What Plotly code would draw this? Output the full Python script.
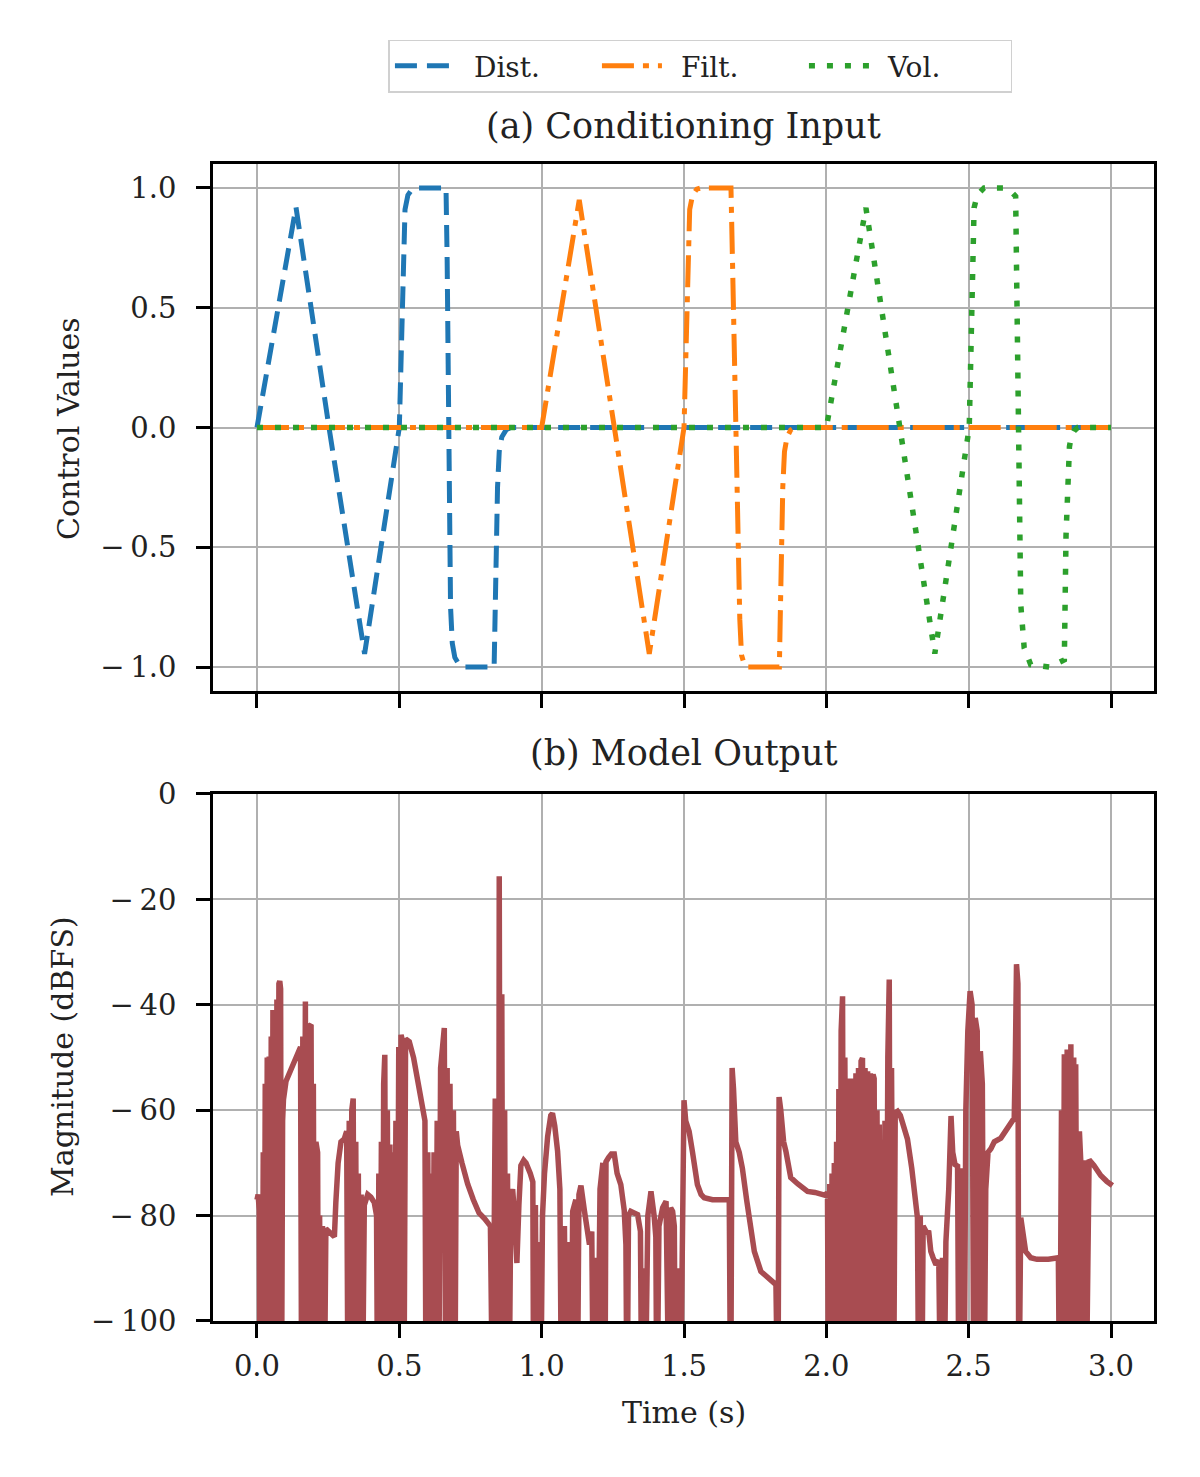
import plotly.graph_objects as go

# value used where the output drops below the -100 dB floor (clipped by the axis)
L = -120

# (a) conditioning input, time in s
dist_t = [0.0, 0.137, 0.253, 0.378, 0.5, 0.507, 0.514, 0.52, 0.53, 0.545, 0.56, 0.664, 0.668, 0.672, 0.676,
          0.68, 0.686, 0.695, 0.71, 0.728, 0.833, 0.836, 0.84, 0.845, 0.851, 0.86, 0.875, 0.89, 3.0]
dist_v = [0.0, 0.92, 0.0, -0.945, 0.0, 0.4, 0.75, 0.91, 0.97, 0.995, 1.0, 1.0, 0.7, 0.2, -0.3,
          -0.75, -0.9, -0.96, -0.99, -1.0, -1.0, -0.8, -0.5, -0.25, -0.1, -0.04, -0.01, 0.0, 0.0]

filt_t = [0.0, 1.0, 1.132, 1.256, 1.378, 1.5, 1.507, 1.514, 1.52, 1.53, 1.545, 1.56, 1.665, 1.672, 1.68,
          1.688, 1.696, 1.702, 1.712, 1.725, 1.835, 1.838, 1.842, 1.847, 1.853, 1.862, 1.875, 1.89, 3.0]
filt_v = [0.0, 0.0, 0.95, 0.0, -0.945, 0.0, 0.4, 0.75, 0.91, 0.97, 0.995, 1.0, 1.0, 0.6, 0.1,
          -0.4, -0.8, -0.95, -0.99, -1.0, -1.0, -0.8, -0.5, -0.25, -0.1, -0.04, -0.01, 0.0, 0.0]

vol_t = [0.0, 2.0, 2.139, 2.256, 2.381, 2.502, 2.508, 2.514, 2.519, 2.53, 2.554, 2.624, 2.645, 2.665,
         2.671, 2.677, 2.683, 2.695, 2.718, 2.783, 2.836, 2.842, 2.848, 2.854, 2.86, 2.87, 2.883, 3.0]
vol_v = [0.0, 0.0, 0.917, 0.0, -0.944, 0.0, 0.45, 0.78, 0.917, 0.97, 1.0, 1.0, 0.99, 0.965,
         0.375, -0.18, -0.74, -0.92, -0.99, -1.0, -0.97, -0.45, -0.2, -0.08, -0.04, -0.015, 0.0, 0.0]

# (b) model output magnitude, dBFS
out_t = [
    0.000, 0.004, 0.008, 0.011, 0.015, 0.018, 0.022, 0.025, 0.029, 0.032,
    0.036, 0.039, 0.043, 0.046, 0.050, 0.053, 0.056, 0.059, 0.063, 0.066,
    0.070, 0.073, 0.077, 0.080, 0.083, 0.086, 0.090, 0.093, 0.102, 0.110,
    0.118, 0.126, 0.134, 0.140, 0.148, 0.153, 0.157, 0.161, 0.164, 0.168,
    0.170, 0.173, 0.177, 0.181, 0.185, 0.190, 0.194, 0.198, 0.202, 0.207,
    0.213, 0.216, 0.220, 0.224, 0.230, 0.236, 0.242, 0.250, 0.262, 0.272,
    0.277, 0.285, 0.295, 0.307, 0.315, 0.320, 0.324, 0.328, 0.333, 0.338,
    0.342, 0.347, 0.351, 0.356, 0.360, 0.366, 0.370, 0.377, 0.382, 0.389,
    0.400, 0.412, 0.420, 0.424, 0.428, 0.432, 0.437, 0.441, 0.445, 0.449,
    0.453, 0.458, 0.462, 0.467, 0.471, 0.476, 0.482, 0.488, 0.492, 0.498,
    0.502, 0.506, 0.512, 0.516, 0.522, 0.535, 0.550, 0.565, 0.580, 0.590,
    0.594, 0.600, 0.605, 0.611, 0.616, 0.622, 0.627, 0.633, 0.638, 0.645,
    0.651, 0.658, 0.663, 0.668, 0.673, 0.678, 0.684, 0.690, 0.695, 0.700,
    0.705, 0.720, 0.740, 0.760, 0.780, 0.800, 0.820, 0.828, 0.834, 0.837,
    0.841, 0.846, 0.849, 0.851, 0.855, 0.860, 0.864, 0.870, 0.874, 0.880,
    0.885, 0.892, 0.898, 0.905, 0.913, 0.920, 0.927, 0.937, 0.945, 0.960,
    0.969, 0.972, 0.978, 0.983, 0.990, 0.996, 1.003, 1.010, 1.021, 1.032,
    1.038, 1.046, 1.056, 1.064, 1.070, 1.080, 1.086, 1.096, 1.103, 1.109,
    1.120, 1.125, 1.131, 1.138, 1.150, 1.160, 1.168, 1.176, 1.182, 1.190,
    1.196, 1.205, 1.215, 1.222, 1.226, 1.235, 1.245, 1.255, 1.265, 1.278,
    1.290, 1.296, 1.300, 1.305, 1.313, 1.325, 1.337, 1.347, 1.352, 1.358,
    1.363, 1.373, 1.384, 1.395, 1.401, 1.405, 1.412, 1.425, 1.437, 1.448,
    1.453, 1.460, 1.466, 1.470, 1.480, 1.487, 1.496, 1.500, 1.506, 1.518,
    1.530, 1.547, 1.560, 1.571, 1.600, 1.630, 1.659, 1.664, 1.669, 1.674,
    1.682, 1.694, 1.705, 1.720, 1.747, 1.770, 1.793, 1.823, 1.830, 1.834,
    1.840, 1.850, 1.858, 1.875, 1.900, 1.934, 1.960, 1.993, 2.000, 2.004,
    2.008, 2.012, 2.016, 2.020, 2.024, 2.028, 2.032, 2.036, 2.040, 2.044,
    2.048, 2.052, 2.057, 2.061, 2.065, 2.069, 2.073, 2.077, 2.081, 2.087,
    2.091, 2.095, 2.099, 2.104, 2.108, 2.113, 2.117, 2.122, 2.127, 2.131,
    2.136, 2.140, 2.145, 2.149, 2.155, 2.159, 2.164, 2.168, 2.172, 2.178,
    2.182, 2.186, 2.190, 2.196, 2.200, 2.206, 2.210, 2.216, 2.221, 2.225,
    2.229, 2.232, 2.236, 2.242, 2.250, 2.260, 2.285, 2.300, 2.320, 2.325,
    2.330, 2.335, 2.340, 2.350, 2.360, 2.367, 2.375, 2.385, 2.395, 2.402,
    2.408, 2.413, 2.420, 2.430, 2.438, 2.444, 2.452, 2.461, 2.466, 2.472,
    2.478, 2.484, 2.490, 2.497, 2.505, 2.512, 2.518, 2.523, 2.530, 2.536,
    2.541, 2.548, 2.554, 2.560, 2.568, 2.578, 2.590, 2.613, 2.640, 2.660,
    2.664, 2.668, 2.673, 2.676, 2.683, 2.700, 2.718, 2.740, 2.780, 2.815,
    2.820, 2.826, 2.831, 2.836, 2.841, 2.846, 2.851, 2.855, 2.859, 2.864,
    2.869, 2.873, 2.876, 2.882, 2.889, 2.894, 2.897, 2.905, 2.912, 2.923,
    2.940, 2.964, 2.985, 3.005,
]
out_db = [
    -77, -76, -79, L, -82, L, -68, L, -55, L,
    -50, L, -49.8, L, -46, L, -41, L, -44, L,
    -39, L, -36, -35.5, -37, L, -62, -58, -54.5, -53.5,
    -52.5, -51.5, -50.5, -50, -49, -48, L, -46, L, -42,
    -39.4, L, -46, L, -44, -43.8, L, -55, L, -66,
    -68, L, -80, L, -82, L, -82.5, -83, -83.5, -84,
    -77.5, -70, -66, -65.4, -64, L, -62, L, -60, -57.8,
    L, -66, L, -72, L, -76, L, -78, -77, -76,
    -76.5, -77.5, -80, L, -72, L, -66, L, -55, -49.5,
    L, -60, L, -66.5, L, -68, L, -62, L, -48,
    L, -45.7, -47, L, -46.5, -47, -50, -54.5, -59, -62,
    L, -68, L, -72, L, -68, L, -62, L, -52,
    -47, -44.4, L, -52, L, -55, L, -60, L, -64,
    -66.7, -70, -74, -77, -79.5, -80.6, -82, L, -82.5, -57.8,
    L, -70, L, -15.6, L, -38, L, -60, L, -72,
    L, -76, -75, -80, -89, -78, -70.5, -69.5, -70, -72,
    -73.6, L, -78, L, -85, L, -80, -72, -65, -61,
    -60.6, -63, -67.8, -75, L, -82, L, -85, L, -79.2,
    -77, L, -76, -74.3, -79, -83, -85.5, -83, L, -88,
    L, -75, -70, L, -69.8, -69, -68.3, -68.3, -72, -74.1,
    -79, -85.5, L, -80, -79.2, -79.5, -79.8, -83, L, -90,
    L, -80, -75.4, -80, -84, L, -82, -78.5, -77.3, L,
    -78.5, -79.2, -82, L, -90, L, -85, -58.1, -62, -64,
    -68, -74.1, -76, -76.6, -77, -77, -77, L, -52, -56,
    -66, -68, -71, -77, -86.8, -90.6, -91.8, -93.1, L, -57.5,
    -60, -66, -67.8, -72.8, -74, -75.4, -75.6, -76, -76.2, -75.5,
    L, -74, L, -72, L, -70, L, -66, L, -56,
    L, -45, -38.4, L, -50, -50.2, L, -54, L, -55.1,
    L, -54, L, -53, L, -52, L, -50.7, -50.1, L,
    -52, L, -52.6, L, -53, L, -53.2, -54, L, -60,
    L, -62.7, L, -68, L, -62, L, -50, -35.2, L,
    -52, -58, L, -60.5, -60.2, -61, -65.5, -71, -80.4, L,
    -80, L, -82, -83, -83.2, -86.8, -88, -89.3, -88.5, L,
    -88, L, -85, -75, -61.1, -68, -70.3, -70.6, L, -80,
    -71, L, -60, -45, -37.4, -40, L, -42.5, -45, L,
    -48.8, -55, L, -75, -68, -67.3, -66, -65.3, -63, -61.5,
    -50, -32.3, -36, L, -80.4, -86.8, -88, -88.3, -88.3, -88,
    L, -60, L, -49.4, L, -48.5, L, -48.2, -47.5, L,
    -50, L, -51.3, L, -64, -70, L, -69.5, L, -69.4,
    -70.5, -72.4, -73.5, -74.3,
]
assert len(out_t) == len(out_db)

x_ticks = [0.0, 0.5, 1.0, 1.5, 2.0, 2.5, 3.0]
x_labels = ["0.0", "0.5", "1.0", "1.5", "2.0", "2.5", "3.0"]
y1_ticks = [-1.0, -0.5, 0.0, 0.5, 1.0]
y1_labels = ["\u2212\u20091.0", "\u2212\u20090.5", "0.0", "0.5", "1.0"]
y2_ticks = [-100, -80, -60, -40, -20, 0]
y2_labels = ["\u2212\u2009100", "\u2212\u200980", "\u2212\u200960", "\u2212\u200940", "\u2212\u200920", "0"]

FONT = "DejaVu Serif"
INK = "#222222"

fig = go.Figure()
fig.add_trace(go.Scatter(x=dist_t, y=dist_v, name="\u2002Dist.", mode="lines",
                         line=dict(color="#1f77b4", width=5, dash="22px,10px"),
                         xaxis="x", yaxis="y"))
fig.add_trace(go.Scatter(x=filt_t, y=filt_v, name="\u2002Filt.", mode="lines",
                         line=dict(color="#ff7f0e", width=5, dash="32px,9px,6px,9px"),
                         xaxis="x", yaxis="y"))
fig.add_trace(go.Scatter(x=vol_t, y=vol_v, name="\u2002Vol.", mode="lines",
                         line=dict(color="#2ca02c", width=5.5, dash="6px,12px"),
                         xaxis="x", yaxis="y"))
fig.add_trace(go.Scatter(x=out_t, y=out_db, mode="lines", showlegend=False,
                         line=dict(color="#a84c51", width=5.5),
                         xaxis="x2", yaxis="y2"))

ax = dict(showline=True, linecolor="black", linewidth=2.5, mirror=True,
          ticks="outside", ticklen=14, tickwidth=2.5, tickcolor="black",
          showgrid=True, gridcolor="#b0b0b0", gridwidth=2, zeroline=False,
          tickfont=dict(family=FONT, size=29, color=INK))

fig.update_layout(
    width=1200, height=1477, autosize=False,
    paper_bgcolor="white", plot_bgcolor="white",
    margin=dict(l=205, r=54, t=156, b=164),
    font=dict(family=FONT, size=30, color=INK),
    xaxis=dict(ax, domain=[0, 1], anchor="y", range=[-0.1545, 3.151],
               tickvals=x_ticks, showticklabels=False),
    yaxis=dict(ax, domain=[0.5445, 1], anchor="x", range=[-1.1, 1.1],
               tickvals=y1_ticks, ticktext=y1_labels, ticklabelstandoff=14),
    xaxis2=dict(ax, domain=[0, 1], anchor="y2", range=[-0.1545, 3.151],
                tickvals=x_ticks, ticktext=x_labels, ticklabelstandoff=3),
    yaxis2=dict(ax, domain=[0, 0.4555], anchor="x2", range=[-100, 0],
                tickvals=y2_ticks, ticktext=y2_labels, ticklabelstandoff=14),
    legend=dict(orientation="h", x=0.518, xanchor="center", y=1.0847, yanchor="middle",
                bordercolor="#d0d0d0", borderwidth=1.5, bgcolor="white",
                font=dict(family=FONT, size=28, color=INK),
                entrywidth=132, itemwidth=60),
    annotations=[
        dict(text="(a) Conditioning Input", x=0.5, y=1.0328, xref="paper", yref="paper",
             showarrow=False, xanchor="center", yanchor="middle",
             font=dict(family=FONT, size=35, color=INK)),
        dict(text="(b) Model Output", x=0.5, y=0.4909, xref="paper", yref="paper",
             showarrow=False, xanchor="center", yanchor="middle",
             font=dict(family=FONT, size=35, color=INK)),
        dict(text="Control Values", x=-0.1541, y=0.7718, xref="paper", yref="paper",
             showarrow=False, xanchor="center", yanchor="middle", textangle=-90,
             font=dict(family=FONT, size=30, color=INK)),
        dict(text="Magnitude (dBFS)", x=-0.1594, y=0.2282, xref="paper", yref="paper",
             showarrow=False, xanchor="center", yanchor="middle", textangle=-90,
             font=dict(family=FONT, size=30, color=INK)),
        dict(text="Time (s)", x=0.5, y=-0.0795, xref="paper", yref="paper",
             showarrow=False, xanchor="center", yanchor="middle",
             font=dict(family=FONT, size=30, color=INK)),
    ],
)

fig.write_html("out.html")
